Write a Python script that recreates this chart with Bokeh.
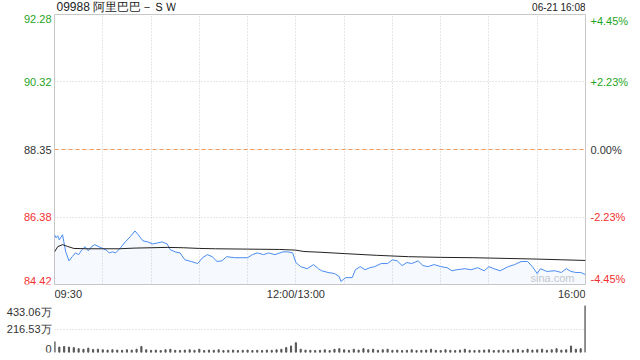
from bokeh.plotting import figure
from bokeh.models import Range1d, FixedTicker, Span
from bokeh.layouts import column, row
from bokeh.embed import file_html
from bokeh.resources import INLINE
from bokeh.core.properties import value

# ---------------- data ----------------
title_text = "09988 阿里巴巴－ＳＷ"
date_text = "06-21 16:08"
prev_close = 88.35

price_ticks = [92.28, 90.32, 88.35, 86.38, 84.42]
price_tick_labels = ["92.28", "90.32", "88.35", "86.38", "84.42"]
pct_tick_labels = ["+4.45%", "+2.23%", "0.00%", "-2.23%", "-4.45%"]

# trading minutes since 09:30 (lunch break removed), 30-min grid
time_grid = [30, 60, 90, 120, 150, 180, 210, 240, 270, 300]
time_label_pos = [0, 150, 330]
time_labels = ["09:30", "12:00/13:00", "16:00"]

vol_ticks = [433.06, 216.53, 0]
vol_tick_labels = ["433.06万", "216.53万", "0"]

minutes = [0, 1, 2, 3, 5, 7, 9, 11, 13, 15, 17, 19, 21, 23, 25, 29, 32, 34, 36, 38,
           41, 44, 47, 50, 52, 55, 58, 61, 64, 67, 70, 72, 75, 78, 81, 85, 89, 92, 95, 98,
           101, 104, 107, 112, 116, 120, 123, 126, 130, 133, 137, 142, 145, 148, 150, 153,
           157, 161, 164, 166, 170, 174, 177, 178, 181, 185, 187, 190, 193, 196, 199, 203,
           207, 210, 213, 216, 219, 222, 226, 229, 232, 236, 240, 244, 247, 250, 255, 259,
           263, 267, 270, 273, 277, 282, 286, 290, 294, 297, 300, 302, 306, 311, 315, 318,
           321, 324, 327, 330]
prices = [85.87, 85.78, 85.84, 85.72, 85.87, 85.37, 85.11, 85.23, 85.34, 85.29, 85.43, 85.52,
          85.40, 85.52, 85.58, 85.49, 85.43, 85.34, 85.37, 85.34, 85.49, 85.66, 85.81, 85.98,
          85.87, 85.69, 85.66, 85.60, 85.63, 85.66, 85.60, 85.43, 85.37, 85.34, 85.14, 85.09,
          85.03, 85.20, 85.29, 85.23, 85.09, 85.11, 85.23, 85.20, 85.20, 85.20, 85.29, 85.34,
          85.29, 85.34, 85.29, 85.37, 85.37, 85.34, 85.06, 84.94, 84.88, 85.00, 84.88, 84.82,
          84.77, 84.74, 84.65, 84.51, 84.62, 84.62, 84.85, 84.94, 84.85, 84.91, 84.94, 85.03,
          85.03, 85.14, 85.11, 84.97, 85.06, 85.03, 85.11, 84.97, 84.94, 85.00, 84.94, 84.91,
          84.82, 84.85, 84.88, 84.85, 84.91, 84.82, 84.94, 84.88, 84.82, 84.94, 85.00, 85.09,
          85.09, 84.94, 84.74, 84.88, 84.80, 84.82, 84.77, 84.88, 84.80, 84.77, 84.77, 84.71]

avg_minutes = [0, 2, 5, 8, 12, 20, 30, 40, 50, 60, 70, 80, 90, 100, 120, 140, 150, 155,
               165, 180, 200, 220, 240, 260, 280, 300, 315, 330]
avg_prices = [85.37, 85.52, 85.58, 85.53, 85.47, 85.46, 85.46, 85.46, 85.48, 85.49, 85.50,
              85.49, 85.47, 85.46, 85.45, 85.44, 85.42, 85.38, 85.36, 85.32, 85.27, 85.23,
              85.21, 85.20, 85.18, 85.16, 85.14, 85.12]

vol_minutes = list(range(0, 331, 3))
volumes = [100, 50, 55, 50, 45, 35, 30, 40, 28, 30,
           25, 22, 25, 22, 20, 25, 22, 30, 55, 25,
           20, 22, 18, 25, 30, 20, 18, 22, 25, 20,
           30, 18, 22, 20, 25, 18, 20, 22, 18, 20,
           22, 18, 20, 18, 22, 20, 25, 30, 45, 60,
           90, 30, 22, 20, 18, 20, 25, 18, 30, 35,
           25, 20, 30, 22, 35, 25, 30, 20, 25, 30,
           20, 22, 18, 20, 25, 18, 20, 22, 30, 20,
           18, 25, 20, 18, 22, 30, 20, 18, 20, 22,
           25, 18, 20, 22, 18, 25, 28, 20, 30, 22,
           25, 30, 20, 25, 35, 22, 25, 60, 30, 35,
           433.06]

# ---------------- styles ----------------
GREEN = "#1fa51f"
RED = "#f23030"
DARK = "#333333"
BLUE = "#4a8cf0"
GRID = "#cfcfcf"
FONT = value("Liberation Sans")
tick_colors = [GREEN, GREEN, DARK, RED, RED]
tick_baselines = ["top", "middle", "middle", "middle", "bottom"]
time_aligns = ["left", "center", "right"]

x0, x1 = time_label_pos[0], time_label_pos[-1]
y0, y1 = price_ticks[-1], price_ticks[0]
xr = Range1d(x0, x1)
yr = Range1d(y0, y1)
vr = Range1d(vol_ticks[-1], vol_ticks[0])
unit = Range1d(0, 1)


def blank(width, height, x_range, y_range, left=0, right=0, top=0, bottom=0):
    f = figure(width=width, height=height, x_range=x_range, y_range=y_range,
               x_axis_location=None, y_axis_location=None, toolbar_location=None,
               output_backend="svg", min_border=0, min_border_left=left,
               min_border_right=right, min_border_top=top, min_border_bottom=bottom)
    f.outline_line_color = None
    f.xgrid.visible = False
    f.ygrid.visible = False
    return f


# ---- title strip ----
t = blank(640, 13, xr, unit, left=54, right=55)
t.text(x=[x0], y=[0.5], text=[title_text], x_offset=2, text_align="left",
       text_baseline="middle", text_color="#222222", text_font_size="12px", text_font=FONT)
t.text(x=[x1], y=[0.45], text=[date_text], text_align="right", text_baseline="middle",
       text_color="#222222", text_font_size="10px", text_font=FONT)

# ---- main price chart ----
p = blank(533, 272, xr, yr, left=1, right=1, top=1, bottom=1)
p.outline_line_color = "#c8c8c8"
p.xgrid.visible = True
p.ygrid.visible = True
p.xgrid.ticker = FixedTicker(ticks=time_grid)
p.xgrid.grid_line_color = GRID
p.xgrid.grid_line_dash = "1 2"
p.ygrid.ticker = FixedTicker(ticks=price_ticks[1:4])
p.ygrid.grid_line_color = GRID
p.ygrid.grid_line_dash = "1 2"

p.add_layout(Span(location=prev_close, dimension="width", line_color="#f39a5a",
                  line_dash="4 3", line_width=1))

p.text(x=[x1], y=[y0], text=["sina.com"], x_offset=-11, y_offset=-1,
       text_align="right", text_baseline="bottom", text_color="#cccccc",
       text_font_size="11px", text_font=FONT)

p.varea(x=minutes, y1=y0, y2=prices, fill_color=BLUE, fill_alpha=0.05)
p.line(minutes, prices, line_color=BLUE, line_width=1)
p.line(avg_minutes, avg_prices, line_color="#222222", line_width=1)

# ---- price / percent tick labels ----
lp = blank(53, 272, unit, yr, top=1, bottom=1)
rp = blank(54, 272, unit, yr, top=1, bottom=1)
for yv, lt, rt, c, b in zip(price_ticks, price_tick_labels, pct_tick_labels,
                            tick_colors, tick_baselines):
    lp.text(x=[1], y=[yv], text=[lt], x_offset=-2, text_align="right", text_baseline=b,
            text_color=c, text_font_size="11px", text_font=FONT)
    rp.text(x=[0], y=[yv], text=[rt], x_offset=4, text_align="left", text_baseline=b,
            text_color=c, text_font_size="11px", text_font=FONT)

# ---- time labels ----
xl = blank(640, 15, xr, unit, left=54, right=55)
for xv, tx, a in zip(time_label_pos, time_labels, time_aligns):
    xl.text(x=[xv], y=[1], text=[tx], y_offset=2, text_align=a, text_baseline="top",
            text_color=DARK, text_font_size="11px", text_font=FONT)

# ---- volume ----
v = blank(587, 60, xr, vr, left=1, right=55, top=5, bottom=8)
v.ygrid.visible = True
v.ygrid.ticker = FixedTicker(ticks=vol_ticks[:2])
v.ygrid.grid_line_color = GRID
v.ygrid.grid_line_dash = "1 2"
v.vbar(x=vol_minutes, top=volumes, width=0.7, color="#555555")

vl = blank(53, 60, unit, vr, top=5, bottom=8)
for yv, tx, b in zip(vol_ticks, vol_tick_labels, ["top", "middle", "bottom"]):
    vl.text(x=[1], y=[yv], text=[tx], x_offset=-2, text_align="right", text_baseline=b,
            text_color=DARK, text_font_size="11px", text_font=FONT)

layout = column(t, row(lp, p, rp), xl, row(vl, v))
open("out.html", "w").write(file_html(layout, INLINE))
